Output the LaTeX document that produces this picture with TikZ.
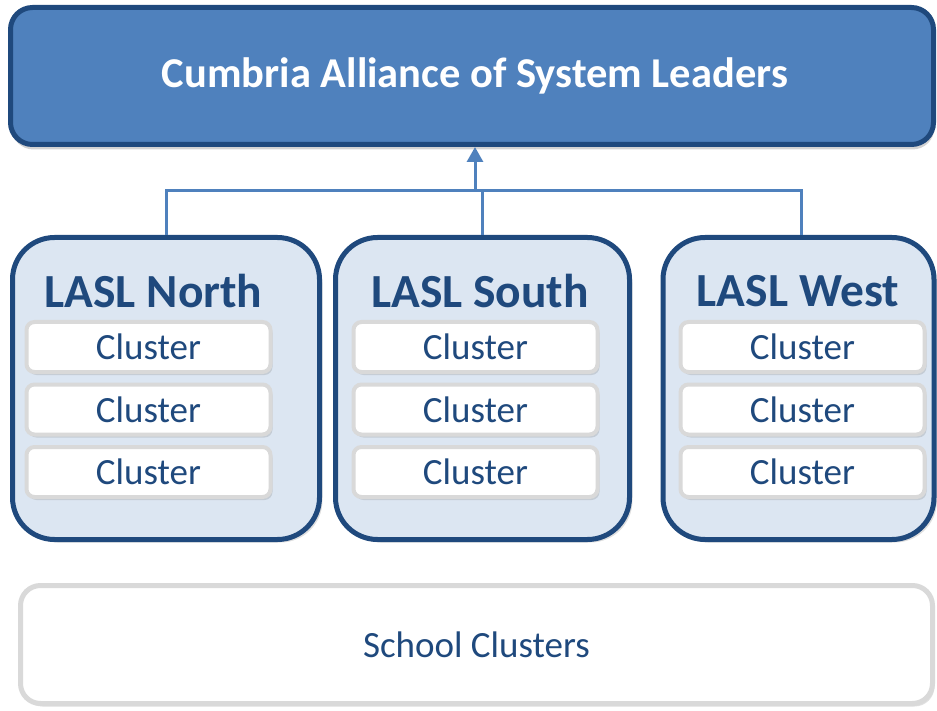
\documentclass[tikz,border=0pt]{standalone}
\usepackage{fontspec}
\setmainfont{Carlito}
\usetikzlibrary{shadows,arrows.meta}
\definecolor{navy}{HTML}{1F497D}
\definecolor{midblue}{HTML}{4F81BD}
\definecolor{paleblue}{HTML}{DCE6F2}
\definecolor{softgray}{HTML}{D9D9D9}

\begin{document}
\begin{tikzpicture}[x=1pt, y=-1pt,
    alliance/.style ={rectangle, rounded corners=22pt, draw=navy, line width=5pt, fill=midblue,
        minimum width=923pt, minimum height=137pt,
        drop shadow={shadow xshift=1pt, shadow yshift=-5pt, opacity=.35}},
    lasl/.style ={rectangle, rounded corners=42pt, draw=navy, line width=5pt, fill=paleblue,
        minimum height=302pt, drop shadow={shadow xshift=3pt, shadow yshift=-3pt, opacity=.25}},
    lasltitle/.style ={text=navy, font=\fontsize{47.5}{56}\selectfont\bfseries, inner sep=0pt},
    cluster/.style ={rectangle, rounded corners=8pt, draw=softgray, line width=4pt, fill=white,
        text=navy, font=\fontsize{37}{44}\selectfont, minimum width=244pt, minimum height=50pt, inner sep=0pt,
        drop shadow={shadow xshift=2pt, shadow yshift=-3pt, opacity=.25}},
    schoolbox/.style ={rectangle, rounded corners=20pt, draw=softgray, line width=5pt, fill=white,
        text=navy, font=\fontsize{37}{44}\selectfont, minimum width=912pt, minimum height=118pt,
        drop shadow={shadow xshift=2pt, shadow yshift=-3pt, opacity=.25}},
    link/.style ={draw=midblue, line width=3pt}]
   \useasboundingbox (0,0) rectangle (937,711);

   % top level
   \node[alliance] (alliance) at (472,76) {};
   \node[text=white, font=\fontsize{42.5}{50}\selectfont\bfseries] (alliancetext) at (475,76) {Cumbria Alliance of System Leaders};

   % the three LASL groups
   \node[lasl, minimum width=307pt] (north) at (166,388.5) {};
   \node[lasl, minimum width=294pt] (south) at (482.5,388.5) {};
   \node[lasl, minimum width=271pt] (west) at (798.5,388.5) {};

   \node[lasltitle] (northtitle) at (153.5,291) {LASL North};
   \node[lasltitle] (southtitle) at (480,291) {LASL South};
   \node[lasltitle] (westtitle) at (798,291) {LASL West};

   \foreach \name/\x in {n/148.5, s/475.5, w/802.5} {
     \node[cluster] (\name1) at (\x,347) {Cluster};
     \node[cluster] (\name2) at (\x,409.5) {Cluster};
     \node[cluster] (\name3) at (\x,472) {Cluster};
   }

   % bottom layer
   \node[schoolbox] (school) at (476.5,644.5) {School Clusters};

   % connectors up to the alliance
   \coordinate (bus) at (475,191);
   \draw[link] (north.north) |- (bus) -| ([xshift=2.5pt]west.north);
   \draw[link] (south.north) -- (south.north |- bus);
   \draw[link, -{Triangle[length=15pt, width=16pt]}] (bus) -- (bus |- alliance.south);
\end{tikzpicture}
\end{document}
